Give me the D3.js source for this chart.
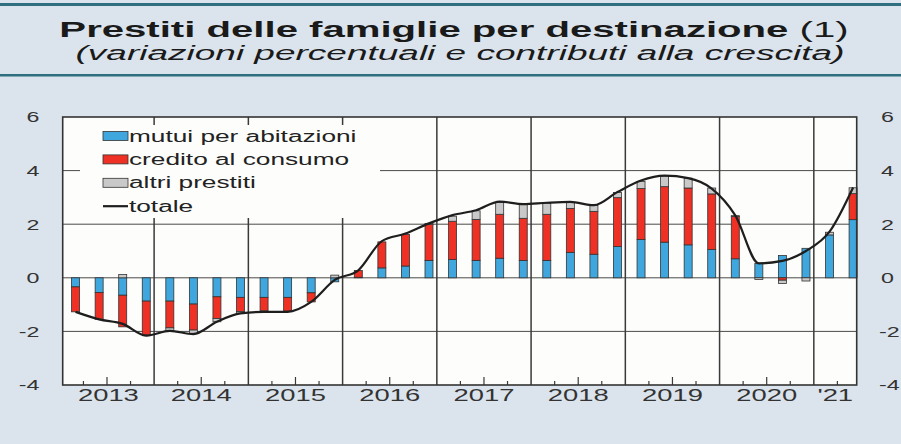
<!DOCTYPE html>
<html>
<head>
<meta charset="utf-8">
<script src="https://cdn.jsdelivr.net/npm/d3@7"></script>
<style>
body{margin:0;background:#dbe4ec;}
svg{display:block;font-family:"Liberation Sans",Arial,sans-serif;}
</style>
</head>
<body>
<svg id="chart"></svg>
<script>
// quarters: year + month of the bar (end of quarter)
var years = [2013,2013,2013,2013,2014,2014,2014,2014,2015,2015,2015,2015,
             2016,2016,2016,2016,2017,2017,2017,2017,2018,2018,2018,2018,
             2019,2019,2019,2019,2020,2020,2020,2020,2021,2021]
var months = [3,6,9,12,3,6,9,12,3,6,9,12,3,6,9,12,3,6,9,12,3,6,9,12,
              3,6,9,12,3,6,9,12,3,6]

var mutui = [-0.34,-0.55,-0.65,-0.87,-0.87,-0.98,-0.71,-0.73,-0.73,-0.73,-0.56,-0.15,
             0.02,0.37,0.44,0.65,0.68,0.65,0.73,0.65,0.65,0.95,0.88,1.17,
             1.43,1.33,1.23,1.06,0.71,0.54,0.83,1.10,1.60,2.17]
var credito = [-0.93,-1.00,-1.18,-1.27,-1.00,-0.97,-0.81,-0.53,-0.50,-0.51,-0.34,0.00,
               0.25,0.97,1.18,1.34,1.43,1.53,1.64,1.57,1.72,1.64,1.60,1.82,
               1.90,2.07,2.12,2.07,1.58,0.00,-0.09,0.00,0.00,0.97]
var altri = [0.00,0.00,0.12,-0.02,-0.09,-0.12,-0.12,-0.06,0.00,0.00,0.00,0.10,
             0.00,0.00,0.00,0.04,0.19,0.32,0.44,0.53,0.41,0.22,0.22,0.19,
             0.26,0.40,0.37,0.22,0.03,-0.06,-0.12,-0.12,0.10,0.22]
var totale = [-1.27,-1.55,-1.72,-2.16,-1.98,-2.10,-1.64,-1.33,-1.27,-1.27,-0.90,-0.08,
              0.28,1.37,1.65,2.03,2.34,2.52,2.84,2.75,2.80,2.83,2.71,3.20,
              3.63,3.81,3.72,3.33,2.33,0.54,0.63,1.00,1.72,3.37]

var yTicks = [-4,-2,0,2,4,6]
var yearLabels = ["2013","2014","2015","2016","2017","2018","2019","2020","'21"]

var series = [
    {name:"mutui per abitazioni", values:mutui, color:"#3fa7de"},
    {name:"credito al consumo", values:credito, color:"#ee3124"},
    {name:"altri prestiti", values:altri, color:"#c9c9c9"}
]

var screen = {width:901,height:444}
var plot = {left:62.7,right:856.7,top:117,bottom:385}

// the source is drawn with wide lettering: stretch text sideways
var stretch = function(x,y,k)
{
    return "translate("+x+","+y+") scale("+k+",1)";
}

var svg = d3.select("#chart")
    .attr("width",screen.width)
    .attr("height",screen.height)

// header
svg.append("rect")
    .attr("x",0).attr("y",3).attr("width",screen.width).attr("height",3)
    .attr("fill","#2f6f80")
svg.append("rect")
    .attr("x",0).attr("y",74).attr("width",screen.width).attr("height",2.5)
    .attr("fill","#2f6f80")

var title = svg.append("text")
    .attr("transform",stretch(454,37,1.8))
    .attr("text-anchor","middle")
    .attr("font-size",22.3)
    .attr("fill","#1a1a1a")
title.append("tspan").attr("font-weight","bold").text("Prestiti delle famiglie per destinazione ")
title.append("tspan").text("(1)")

svg.append("text")
    .attr("transform",stretch(460,60,1.85))
    .attr("text-anchor","middle")
    .attr("font-size",20)
    .attr("font-style","italic")
    .attr("fill","#1a1a1a")
    .text("(variazioni percentuali e contributi alla crescita)")

// scales
var xScale = d3.scaleLinear()
    .domain([2013.03,2021.455])
    .range([plot.left,plot.right])
var yScale = d3.scaleLinear()
    .domain([-4,6])
    .range([plot.bottom,plot.top])

var pos = function(i){ return xScale(years[i]+(months[i]-1)/12) }

// plot background
svg.append("rect")
    .attr("x",plot.left).attr("y",plot.top)
    .attr("width",plot.right-plot.left).attr("height",plot.bottom-plot.top)
    .attr("fill","#fdfdfb")

// gridlines
svg.append("g").selectAll("line")
    .data([-2,0,2,4])
    .enter().append("line")
    .attr("x1",plot.left).attr("x2",plot.right)
    .attr("y1",function(d){return yScale(d)})
    .attr("y2",function(d){return yScale(d)})
    .attr("stroke","#4a4a4a").attr("stroke-width",1)

var yearStarts = d3.range(2014,2022)
svg.append("g").selectAll("line")
    .data(yearStarts)
    .enter().append("line")
    .attr("x1",function(d){return xScale(d)})
    .attr("x2",function(d){return xScale(d)})
    .attr("y1",plot.top).attr("y2",plot.bottom)
    .attr("stroke","#3a3a3a").attr("stroke-width",1.5)

// legend box hides the grid behind it
svg.append("rect")
    .attr("x",80).attr("y",125).attr("width",300).attr("height",93)
    .attr("fill","#fdfdfb")

// quarter ticks on bottom axis
var qTicks = []
d3.range(2013,2022).forEach(function(y){
    [0.25,0.5,0.75].forEach(function(f){
        if(y+f<2021.455) qTicks.push({v:y+f,big:f==0.5})
    })
})
svg.append("g").selectAll("line")
    .data(qTicks)
    .enter().append("line")
    .attr("x1",function(d){return xScale(d.v)})
    .attr("x2",function(d){return xScale(d.v)})
    .attr("y1",plot.bottom)
    .attr("y2",function(d){return plot.bottom-(d.big?8:4)})
    .attr("stroke","#3a3a3a").attr("stroke-width",1.2)

// stacked bars: positives up, negatives down
var barW = 8
var bars = svg.append("g")
years.forEach(function(y,i){
    var up = 0, down = 0
    series.forEach(function(s){
        var v = s.values[i]
        if(v==0) return
        var y0, y1
        if(v>0){ y0 = up; y1 = up+v; up = y1 }
        else { y0 = down; y1 = down+v; down = y1 }
        bars.append("rect")
            .attr("x",pos(i)-barW/2)
            .attr("y",yScale(Math.max(y0,y1)))
            .attr("width",barW)
            .attr("height",Math.abs(yScale(y0)-yScale(y1)))
            .attr("fill",s.color)
            .attr("stroke","#333")
            .attr("stroke-width",0.8)
    })
})

// total line
var line = d3.line()
    .x(function(d,i){return pos(i)})
    .y(function(d){return yScale(d)})
    .curve(d3.curveMonotoneX)
svg.append("path")
    .datum(totale)
    .attr("d",line)
    .attr("fill","none")
    .attr("stroke","#1e1e1e")
    .attr("stroke-width",2.2)

// frame
svg.append("rect")
    .attr("x",plot.left).attr("y",plot.top)
    .attr("width",plot.right-plot.left).attr("height",plot.bottom-plot.top)
    .attr("fill","none")
    .attr("stroke","#333").attr("stroke-width",1.6)

// y labels, both sides
var yLab = svg.append("g").attr("font-size",15).attr("fill","#333")
yLab.selectAll("text.l")
    .data(yTicks).enter().append("text")
    .attr("transform",function(d){return stretch(39.5,yScale(d)+5.3,1.55)})
    .attr("text-anchor","end")
    .text(function(d){return d})
yLab.selectAll("text.r")
    .data(yTicks).enter().append("text")
    .attr("transform",function(d){return stretch(d<0?879:881,yScale(d)+5.3,1.55)})
    .attr("text-anchor","start")
    .text(function(d){return d})

// year labels
var yearMid = function(i){
    var a = Math.max(2013+i,2013.03), b = Math.min(2014+i,2021.455)
    return xScale((a+b)/2)
}
svg.append("g").selectAll("text")
    .data(yearLabels).enter().append("text")
    .attr("transform",function(d,i){return stretch(yearMid(i),401,1.68)})
    .attr("text-anchor","middle")
    .attr("font-size",16.3)
    .attr("fill","#333")
    .text(function(d){return d})

// legend
var legend = svg.append("g").attr("font-size",16).attr("fill","#222")
var entries = legend.selectAll("g")
    .data(series.concat([{name:"totale"}]))
    .enter().append("g")
    .attr("transform",function(d,i){return "translate(103,"+(136+i*23.4)+")"})
entries.filter(function(d){return d.color})
    .append("rect")
    .attr("x",0).attr("y",-4.5).attr("width",25).attr("height",9)
    .attr("fill",function(d){return d.color})
    .attr("stroke","#333").attr("stroke-width",0.8)
entries.filter(function(d){return !d.color})
    .append("line")
    .attr("x1",0).attr("x2",25).attr("y1",0).attr("y2",0)
    .attr("stroke","#1e1e1e").attr("stroke-width",2.2)
entries.append("text")
    .attr("transform",stretch(26,5.5,1.64))
    .text(function(d){return d.name})
</script>
</body>
</html>
